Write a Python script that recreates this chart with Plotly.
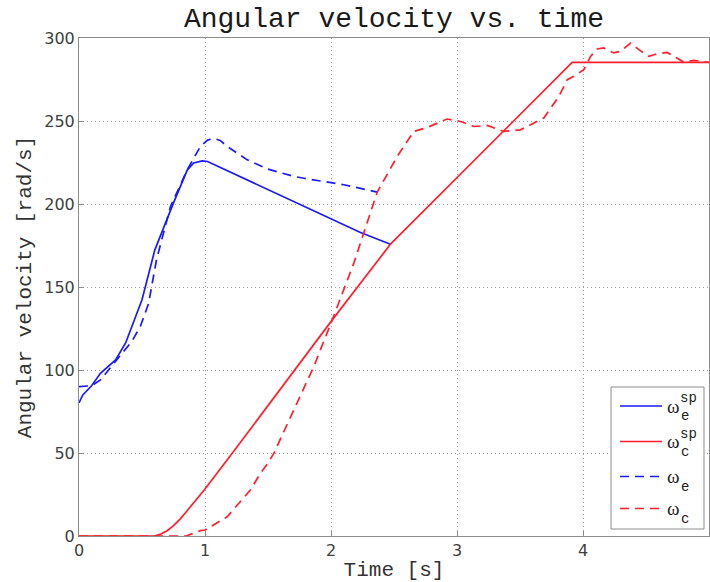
import plotly.graph_objects as go

# Engine speed set-point (rad/s)
t_we_sp = [0.0, 0.03, 0.1, 0.17, 0.29, 0.37, 0.5, 0.602, 0.75, 0.86, 0.91, 0.978, 1.02, 2.234, 2.472]
we_sp = [80.2, 85.0, 90.5, 98.0, 106.1, 116.3, 142.3, 172.4, 200.7, 220.6, 224.7, 226.0, 225.6, 182.8, 175.8]

# Measured engine speed (rad/s)
t_we = [0.0, 0.1, 0.17, 0.274, 0.422, 0.488, 0.552, 0.615, 0.726, 0.859, 0.964, 1.02, 1.07, 1.12,
        1.176, 1.335, 1.5, 1.705, 1.784, 2.102, 2.234, 2.367]
we = [90.0, 90.5, 94.0, 103.5, 117.5, 126.5, 140.0, 166.4, 198.5, 220.6, 234.7, 238.5, 239.5, 238.3,
      234.7, 226.6, 221.0, 216.6, 215.5, 211.6, 209.6, 207.2]

# Clutch speed set-point (rad/s)
t_wc_sp = [0.0, 0.6, 0.65, 0.7, 0.75, 0.8, 0.85, 0.9, 0.95, 1.0, 1.216, 2.01, 2.472, 3.914, 5.0]
wc_sp = [0.0, 0.0, 1.2, 3.2, 6.2, 10.0, 14.5, 19.0, 23.6, 28.3, 49.8, 130.2, 175.8, 285.3, 285.3]

# Measured clutch speed (rad/s)
t_wc = [0.0, 0.85, 0.964, 1.0, 1.176, 1.28, 1.36, 1.44, 1.5, 1.546, 1.705, 1.863, 2.01, 2.181, 2.367,
        2.525, 2.657, 2.763, 2.922, 3.028, 3.133, 3.24, 3.371, 3.504, 3.689, 3.808, 3.875, 3.927, 4.006,
        4.06, 4.113, 4.165, 4.244, 4.298, 4.377, 4.443, 4.522, 4.589, 4.668, 4.72, 4.8, 4.879, 4.985, 5.0]
wc = [0.0, 0.0, 3.2, 3.6, 11.6, 20.7, 27.7, 37.8, 44.0, 49.8, 75.9, 102.0, 130.2, 164.4, 207.2,
      228.6, 243.7, 246.1, 251.2, 249.7, 246.7, 247.3, 243.7, 244.7, 251.8, 264.8, 274.9, 276.9, 280.9,
      288.9, 293.4, 294.0, 291.0, 292.0, 297.0, 293.0, 288.9, 290.5, 291.3, 288.9, 285.5, 286.5, 285.3, 285.3]

x_ticks = [0, 1, 2, 3, 4, 5]
y_ticks = [0, 50, 100, 150, 200, 250, 300]

# Legend entries: subscript and superscript of each omega
leg_sub = ["e", "c", "e", "c"]
leg_sup = ["sp", "sp", "", ""]

BLUE = "#1a1aff"
RED = "#ff1f2f"
MONO = "Liberation Mono"
DASH = "9px,6px"
W, H = 710, 582
ML, MR, MT, MB = 79, 1, 38, 46

series = [
    (t_we_sp, we_sp, BLUE, "solid"),
    (t_wc_sp, wc_sp, RED, "solid"),
    (t_we, we, BLUE, DASH),
    (t_wc, wc, RED, DASH),
]

fig = go.Figure()
for (tx, vy, col, dash), sb, sp in zip(series, leg_sub, leg_sup):
    fig.add_trace(go.Scatter(x=tx, y=vy, mode="lines", name=f"ω_{sb}{'^' + sp if sp else ''}",
                             line=dict(color=col, width=1.7, dash=dash), showlegend=False))


def px_x(x):
    return (x - ML) / (W - ML - MR)


def px_y(y):
    return (H - MB - y) / (H - MT - MB)


# Boxed legend in the lower-right corner with stacked sub/superscripts
shapes = [dict(type="rect", xref="paper", yref="paper",
               x0=px_x(611), x1=px_x(704), y0=px_y(387), y1=px_y(529),
               line=dict(color="#8c8c8c", width=1), fillcolor="white", layer="above")]
annotations = []
row_y = [406, 441.5, 476.5, 508.5]
for (tx, vy, col, dash), sb, sp, ry in zip(series, leg_sub, leg_sup, row_y):
    shapes.append(dict(type="line", xref="paper", yref="paper",
                       x0=px_x(620), x1=px_x(662), y0=px_y(ry), y1=px_y(ry),
                       line=dict(color=col, width=1.7, dash=dash), layer="above"))
    annotations.append(dict(xref="paper", yref="paper", x=px_x(665), y=px_y(ry),
                            xanchor="left", yanchor="middle", text="ω", showarrow=False,
                            font=dict(family="Liberation Serif", size=19, color="#222222")))
    annotations.append(dict(xref="paper", yref="paper", x=px_x(679), y=px_y(ry + 10),
                            xanchor="left", yanchor="middle", text=sb, showarrow=False,
                            font=dict(family=MONO, size=14, color="#222222")))
    if sp:
        annotations.append(dict(xref="paper", yref="paper", x=px_x(678), y=px_y(ry - 8),
                                xanchor="left", yanchor="middle", text=sp, showarrow=False,
                                font=dict(family=MONO, size=14, color="#222222")))

axis_common = dict(
    showline=True, linecolor="#8c8c8c", linewidth=1, mirror=True,
    ticks="inside", ticklen=5, tickcolor="#8c8c8c",
    showgrid=True, gridcolor="#a0a0a0", griddash="1px,3px", gridwidth=1,
    zeroline=False,
    tickfont=dict(family="DejaVu Sans", size=16, color="#404040"),
)

fig.update_layout(
    width=W, height=H,
    margin=dict(l=ML, r=MR, t=MT, b=MB),
    paper_bgcolor="white", plot_bgcolor="white",
    title=dict(text="Angular velocity vs. time", x=(ML + W - MR) / 2 / W, xanchor="center",
               y=1 - 17 / H, yanchor="middle", yref="container",
               font=dict(family=MONO, size=28, color="#1a1a1a")),
    xaxis=dict(range=[0, 5], tickvals=x_ticks, ticktext=[str(v) for v in x_ticks],
               title=dict(text="Time [s]", standoff=2, font=dict(family=MONO, size=21, color="#333333")),
               **axis_common),
    yaxis=dict(range=[0, 300], tickvals=y_ticks, ticktext=[str(v) for v in y_ticks],
               title=dict(text="Angular velocity [rad/s]", standoff=6,
                          font=dict(family=MONO, size=21, color="#333333")),
               **axis_common),
    shapes=shapes,
    annotations=annotations,
    showlegend=False,
)

fig.write_html("out.html")
